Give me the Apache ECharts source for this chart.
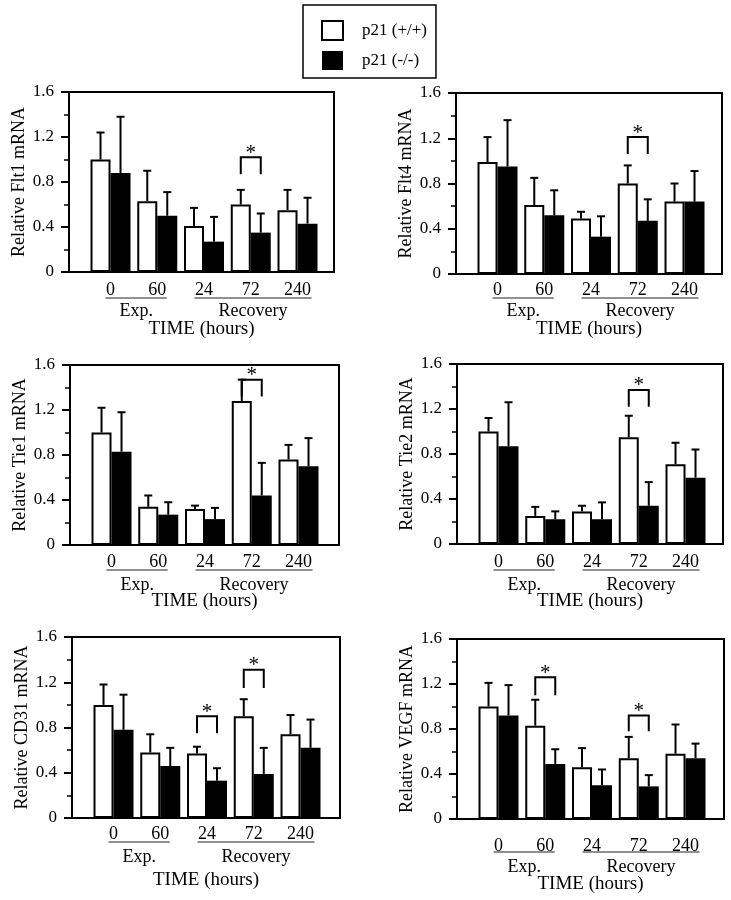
<!DOCTYPE html>
<html>
<head>
<meta charset="utf-8">
<script src="https://cdn.jsdelivr.net/npm/echarts@6/dist/echarts.min.js"></script>
<style>
html,body{margin:0;padding:0;background:#fff;}
#chart{width:731px;height:900px;}
</style>
</head>
<body>
<div id="chart"></div>
<script>
// ---------- data ----------
const categories = ['0', '60', '24', '72', '240'];
const groupNames = ['Exp.', 'Recovery'];
const groupFirst = [0, 2];
const groupLast = [1, 4];
const yTicks = [0, 0.4, 0.8, 1.2, 1.6];
const legendNames = ['p21 (+/+)', 'p21 (-/-)'];
const yTitles = ['Relative Flt1 mRNA', 'Relative Flt4 mRNA', 'Relative Tie1 mRNA',
                 'Relative Tie2 mRNA', 'Relative CD31 mRNA', 'Relative VEGF mRNA'];
const xTitle = 'TIME (hours)';

const flt1Wt = [1.00, 0.63, 0.41, 0.60, 0.55];
const flt1WtSd = [0.24, 0.27, 0.16, 0.13, 0.18];
const flt1Ko = [0.88, 0.50, 0.27, 0.35, 0.43];
const flt1KoSd = [0.50, 0.21, 0.22, 0.17, 0.23];
const flt1Sig = [[3, 0.87, 1.02]];

const flt4Wt = [0.99, 0.61, 0.49, 0.80, 0.64];
const flt4WtSd = [0.22, 0.24, 0.06, 0.16, 0.16];
const flt4Ko = [0.95, 0.52, 0.33, 0.47, 0.64];
const flt4KoSd = [0.41, 0.22, 0.18, 0.19, 0.27];
const flt4Sig = [[3, 1.06, 1.21]];

const tie1Wt = [1.00, 0.34, 0.32, 1.28, 0.76];
const tie1WtSd = [0.22, 0.10, 0.03, 0.19, 0.13];
const tie1Ko = [0.83, 0.27, 0.23, 0.44, 0.70];
const tie1KoSd = [0.35, 0.11, 0.10, 0.29, 0.25];
const tie1Sig = [[3, 1.32, 1.47]];

const tie2Wt = [1.00, 0.25, 0.29, 0.95, 0.71];
const tie2WtSd = [0.12, 0.08, 0.05, 0.19, 0.19];
const tie2Ko = [0.87, 0.22, 0.22, 0.34, 0.59];
const tie2KoSd = [0.39, 0.07, 0.15, 0.21, 0.25];
const tie2Sig = [[3, 1.22, 1.37]];

const cd31Wt = [1.00, 0.58, 0.57, 0.90, 0.74];
const cd31WtSd = [0.18, 0.16, 0.06, 0.15, 0.17];
const cd31Ko = [0.78, 0.46, 0.33, 0.39, 0.62];
const cd31KoSd = [0.31, 0.16, 0.11, 0.23, 0.25];
const cd31Sig = [[2, 0.75, 0.90], [3, 1.15, 1.31]];

const vegfWt = [1.00, 0.83, 0.46, 0.54, 0.58];
const vegfWtSd = [0.21, 0.23, 0.17, 0.19, 0.26];
const vegfKo = [0.92, 0.49, 0.30, 0.29, 0.54];
const vegfKoSd = [0.27, 0.13, 0.14, 0.10, 0.13];
const vegfSig = [[1, 1.10, 1.26], [3, 0.78, 0.92]];

// ---------- layout ----------
const FONT = '"Liberation Serif","Times New Roman",Times,serif';
const UNIT = 46.75;      // px between group centres
const X_MIN = 0.112;
const BAR_W = 20;
const layout = [
  {left: 69,  top: 92,  width: 265, height: 180, lab: 9,  line: 26, grp: 39, time: 48},
  {left: 456, top: 93,  width: 266, height: 181, lab: 7,  line: 24, grp: 37, time: 46},
  {left: 70,  top: 365, width: 269, height: 180, lab: 8,  line: 25, grp: 40, time: 47},
  {left: 457, top: 364, width: 266, height: 180, lab: 9,  line: 26, grp: 41, time: 48},
  {left: 72,  top: 637, width: 268, height: 181, lab: 7,  line: 24, grp: 39, time: 53},
  {left: 457, top: 639, width: 267, height: 180, lab: 18, line: 33, grp: 48, time: 56}
];

const panels = [
  {wt: flt1Wt, wtSd: flt1WtSd, ko: flt1Ko, koSd: flt1KoSd, sig: flt1Sig},
  {wt: flt4Wt, wtSd: flt4WtSd, ko: flt4Ko, koSd: flt4KoSd, sig: flt4Sig},
  {wt: tie1Wt, wtSd: tie1WtSd, ko: tie1Ko, koSd: tie1KoSd, sig: tie1Sig},
  {wt: tie2Wt, wtSd: tie2WtSd, ko: tie2Ko, koSd: tie2KoSd, sig: tie2Sig},
  {wt: cd31Wt, wtSd: cd31WtSd, ko: cd31Ko, koSd: cd31KoSd, sig: cd31Sig},
  {wt: vegfWt, wtSd: vegfWtSd, ko: vegfKo, koSd: vegfKoSd, sig: vegfSig}
];

const grids = [], xAxes = [], yAxes = [], series = [];

function halfLabelW(lbl) { return lbl.length * 0.25 * 18 + 0.5; }

panels.forEach((p, i) => {
  const L = layout[i];
  grids.push({left: L.left, top: L.top, width: L.width, height: L.height,
    show: true, borderColor: '#000', borderWidth: 2, backgroundColor: 'transparent'});
  xAxes.push({
    type: 'value', gridIndex: i, min: X_MIN, max: X_MIN + L.width / UNIT,
    axisLine: {show: true, onZero: false, lineStyle: {color: '#000', width: 2}},
    axisTick: {show: false}, splitLine: {show: false},
    axisLabel: {customValues: categories.map((c, k) => k + 1),
      formatter: v => categories[Math.round(v) - 1] || '',
      fontFamily: FONT, fontSize: 18, color: '#000', margin: L.lab},
    name: xTitle, nameLocation: 'middle', nameGap: L.time,
    nameTextStyle: {fontFamily: FONT, fontSize: 19, color: '#000'}
  });
  yAxes.push({
    type: 'value', gridIndex: i, min: yTicks[0], max: yTicks[yTicks.length - 1],
    interval: yTicks[1] - yTicks[0],
    axisLine: {show: true, onZero: false, lineStyle: {color: '#000', width: 2}},
    axisTick: {show: true, length: 8, lineStyle: {color: '#000', width: 2}},
    minorTick: {show: true, splitNumber: 2, length: 5, lineStyle: {color: '#000', width: 1.5}},
    splitLine: {show: false}, minorSplitLine: {show: false},
    axisLabel: {fontFamily: FONT, fontSize: 17, color: '#000', margin: 15},
    name: yTitles[i], nameLocation: 'middle', nameRotate: 90, nameGap: 41,
    nameTextStyle: {fontFamily: FONT, fontSize: 18, color: '#000'}
  });
  series.push({
    type: 'bar', name: legendNames[0], xAxisIndex: i, yAxisIndex: i,
    data: p.wt.map((v, k) => [k + 1, v]), barWidth: BAR_W, barGap: '0%',
    itemStyle: {color: '#fff', borderColor: '#000', borderWidth: 2}, z: 2
  });
  series.push({
    type: 'bar', name: legendNames[1], xAxisIndex: i, yAxisIndex: i,
    data: p.ko.map((v, k) => [k + 1, v]), barWidth: BAR_W, barGap: '0%',
    itemStyle: {color: '#000', borderColor: '#000', borderWidth: 0}, z: 2
  });
  // error bars
  const errData = p.wt.map((v, k) => [k + 1, v, v + p.wtSd[k], -1])
    .concat(p.ko.map((v, k) => [k + 1, v, v + p.koSd[k], 1]));
  series.push({
    type: 'custom', xAxisIndex: i, yAxisIndex: i, z: 3, clip: false,
    data: errData, encode: {x: 0, y: [1, 2]},
    renderItem: (params, api) => {
      const x = api.value(0), m = api.value(1), t = api.value(2), side = api.value(3);
      const p0 = api.coord([x, m]), p1 = api.coord([x, t]);
      const cx = p0[0] + side * BAR_W / 2;
      return {type: 'group', children: [
        {type: 'line', shape: {x1: cx, y1: p0[1], x2: cx, y2: p1[1]}, style: {stroke: '#000', lineWidth: 2}},
        {type: 'line', shape: {x1: cx - 4, y1: p1[1], x2: cx + 4, y2: p1[1]}, style: {stroke: '#000', lineWidth: 2}}
      ]};
    }
  });
  // significance brackets
  series.push({
    type: 'custom', xAxisIndex: i, yAxisIndex: i, z: 3, clip: false,
    data: p.sig.map(s => [s[0] + 1, s[1], s[2]]), encode: {x: 0, y: [1, 2]},
    renderItem: (params, api) => {
      const x = api.value(0), lb = api.value(1), tp = api.value(2);
      const pt = api.coord([x, tp]), pb = api.coord([x, lb]);
      const xl = pt[0] - BAR_W / 2, xr = pt[0] + BAR_W / 2;
      return {type: 'group', children: [
        {type: 'polyline', shape: {points: [[xl, pb[1]], [xl, pt[1]], [xr, pt[1]], [xr, pb[1]]]},
          style: {stroke: '#000', lineWidth: 2, fill: null}},
        {type: 'text', x: pt[0], y: pt[1] - 4,
          style: {text: '*', fontFamily: FONT, fontSize: 21, fill: '#000',
            align: 'center', verticalAlign: 'middle'}}
      ]};
    }
  });
  // group underlines and names
  series.push({
    type: 'custom', xAxisIndex: i, yAxisIndex: i, z: 3, clip: false,
    data: groupNames.map((n, k) => [groupFirst[k] + 1, groupLast[k] + 1, k]),
    encode: {x: [0, 1]},
    renderItem: (params, api) => {
      const a = api.coord([api.value(0), 0]), b = api.coord([api.value(1), 0]);
      const k = api.value(2);
      const x0 = a[0] - halfLabelW(categories[groupFirst[k]]);
      const x1 = b[0] + halfLabelW(categories[groupLast[k]]);
      return {type: 'group', children: [
        {type: 'line', shape: {x1: x0, y1: a[1] + L.line, x2: x1, y2: a[1] + L.line},
          style: {stroke: '#222', lineWidth: 1.2}},
        {type: 'text', x: (x0 + x1) / 2, y: a[1] + L.grp,
          style: {text: groupNames[k], fontFamily: FONT, fontSize: 18, fill: '#000',
            align: 'center', verticalAlign: 'middle'}}
      ]};
    }
  });
});

const chart = echarts.init(document.getElementById('chart'), null, {renderer: 'canvas'});
chart.setOption({
  animation: false,
  backgroundColor: '#fff',
  legend: {
    data: legendNames, left: 303, top: 5, orient: 'vertical', icon: 'rect',
    padding: [15, 9, 8, 18], itemWidth: 21, itemHeight: 19, itemGap: 10,
    borderColor: '#000', borderWidth: 1.5,
    textStyle: {fontFamily: FONT, fontSize: 17, color: '#000', padding: [0, 0, 0, 14]}
  },
  grid: grids, xAxis: xAxes, yAxis: yAxes, series: series
});
</script>
</body>
</html>
